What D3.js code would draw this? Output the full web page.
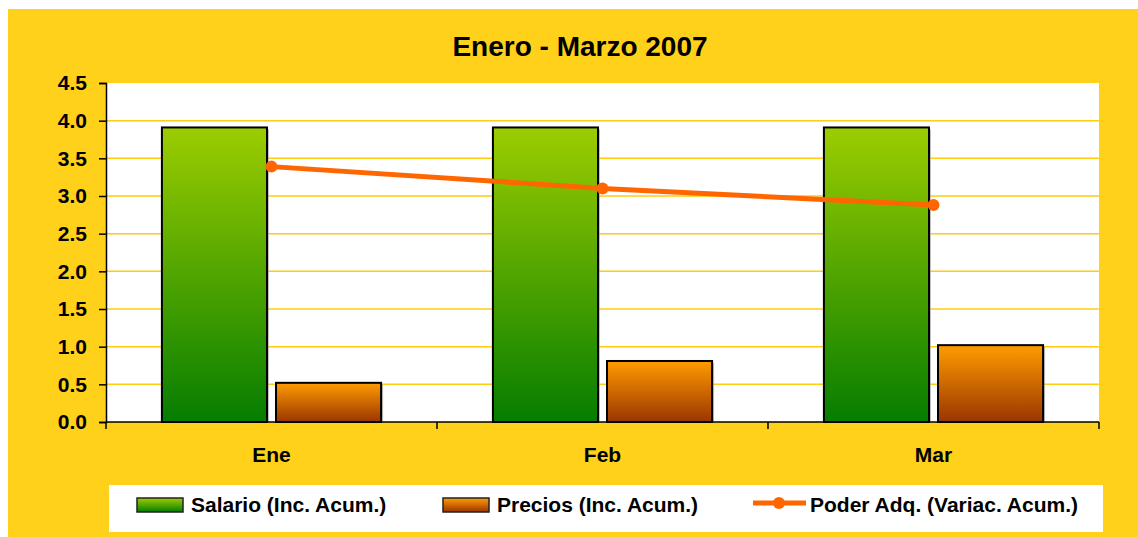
<!DOCTYPE html>
<html>
<head>
<meta charset="utf-8">
<script src="https://cdn.jsdelivr.net/npm/d3@7"></script>
<style>
	body{margin:0;padding:0;background:#fff;}
	svg{display:block;font-family:'Liberation Sans',Arial,sans-serif;font-weight:bold;}
</style>
</head>
<body>
<div id="chart_div"></div>
<script>
////////////////////////////////////////
// data
////////////////////////////////////////

var categories = ['Ene','Feb','Mar'];
var salario = [3.91,3.91,3.91];
var precios = [0.52,0.81,1.02];
var poder = [3.39,3.10,2.88];
var yTicks = [0,0.5,1,1.5,2,2.5,3,3.5,4,4.5];
var seriesNames = ['Salario (Inc. Acum.)','Precios (Inc. Acum.)','Poder Adq. (Variac. Acum.)'];

////////////////////////////////////////
// layout
////////////////////////////////////////

var W = 1138, H = 537;
var plot = {left:106, top:83, right:1099, bottom:422};
var yellow = '#FFD11A';
var fontSize = 21;

var vis = d3.select('#chart_div')
	.append('svg')
	.attr('width',W)
	.attr('height',H);

var defs = vis.append('defs');
function addGrad(id,top,bottom){
	var g = defs.append('linearGradient')
		.attr('id',id)
		.attr('x1',0).attr('y1',0).attr('x2',0).attr('y2',1);
	g.append('stop').attr('offset','0%').attr('stop-color',top);
	g.append('stop').attr('offset','100%').attr('stop-color',bottom);
}
addGrad('gradSalario','#9CCD00','#057D00');
addGrad('gradPrecios','#FF9C00','#9A3500');

vis.append('rect')
	.attr('x',8).attr('y',9)
	.attr('width',W-8).attr('height',H-9)
	.attr('fill',yellow);

vis.append('rect')
	.attr('x',plot.left).attr('y',plot.top)
	.attr('width',plot.right-plot.left).attr('height',plot.bottom-plot.top)
	.attr('fill','#fff');

vis.append('text')
	.attr('x',580).attr('y',56)
	.attr('text-anchor','middle')
	.attr('font-size',28)
	.attr('fill','#000')
	.text('Enero - Marzo 2007');

////////////////////////////////////////
// scales
////////////////////////////////////////

var x = d3.scaleBand()
	.domain(categories)
	.range([plot.left,plot.right])
	.paddingInner(0)
	.paddingOuter(0);

var xInner = d3.scaleBand()
	.domain([0,1])
	.range([0,x.bandwidth()])
	.paddingInner(0.079)
	.paddingOuter(0.49);

var y = d3.scaleLinear()
	.domain([0,4.5])
	.range([plot.bottom,plot.top]);

// grid lines
vis.selectAll('line.grid')
	.data(yTicks.filter(function(d){ return d>0 && d<4.5; }))
	.enter()
		.append('line')
		.attr('class','grid')
		.attr('x1',plot.left).attr('x2',plot.right)
		.attr('y1',function(d){ return y(d); })
		.attr('y2',function(d){ return y(d); })
		.attr('stroke','#FFCC11')
		.attr('stroke-width',1.5);

////////////////////////////////////////
// bars
////////////////////////////////////////

var barData = [];
categories.forEach(function(c,i){
	barData.push({cat:c,k:0,v:salario[i],fill:'url(#gradSalario)'});
	barData.push({cat:c,k:1,v:precios[i],fill:'url(#gradPrecios)'});
});

vis.selectAll('rect.shadow')
	.data(barData)
	.enter()
		.append('rect')
		.attr('class','shadow')
		.attr('x',function(d){ return x(d.cat)+xInner(d.k)+2; })
		.attr('y',function(d){ return y(d.v)+2; })
		.attr('width',xInner.bandwidth())
		.attr('height',function(d){ return y(0)-y(d.v)-2; })
		.attr('fill','#999')
		.attr('opacity',0.6);

vis.selectAll('rect.bar')
	.data(barData)
	.enter()
		.append('rect')
		.attr('class','bar')
		.attr('x',function(d){ return x(d.cat)+xInner(d.k); })
		.attr('y',function(d){ return y(d.v); })
		.attr('width',xInner.bandwidth())
		.attr('height',function(d){ return y(0)-y(d.v); })
		.attr('fill',function(d){ return d.fill; })
		.attr('stroke','#000')
		.attr('stroke-width',2);

////////////////////////////////////////
// axes
////////////////////////////////////////

var yAxis = d3.axisLeft(y)
	.tickValues(yTicks)
	.tickSize(7)
	.tickPadding(12)
	.tickFormat(d3.format('.1f'));

var gy = vis.append('g')
	.attr('transform','translate('+plot.left+',0)')
	.call(yAxis);
gy.select('.domain').attr('stroke','#000').attr('stroke-width',1.5);
gy.selectAll('.tick line').attr('stroke','#000').attr('stroke-width',1.5);
gy.selectAll('.tick text')
	.attr('font-size',fontSize)
	.attr('font-family',"'Liberation Sans',Arial,sans-serif")
	.attr('font-weight','bold')
	.attr('fill','#000');

var xAxis = d3.axisBottom(x).tickSize(0).tickPadding(25);
var gx = vis.append('g')
	.attr('transform','translate(0,'+plot.bottom+')')
	.call(xAxis);
gx.select('.domain').attr('d','M'+plot.left+',0H'+plot.right).attr('stroke','#000').attr('stroke-width',1.5);
gx.selectAll('.tick text')
	.attr('font-size',fontSize)
	.attr('font-family',"'Liberation Sans',Arial,sans-serif")
	.attr('font-weight','bold')
	.attr('fill','#000');

// category boundary ticks
vis.selectAll('line.xtick')
	.data(categories)
	.enter()
		.append('line')
		.attr('class','xtick')
		.attr('x1',function(d){ return x(d); })
		.attr('x2',function(d){ return x(d); })
		.attr('y1',plot.bottom).attr('y2',plot.bottom+7)
		.attr('stroke','#000').attr('stroke-width',1.5);
vis.append('line')
	.attr('x1',plot.right).attr('x2',plot.right)
	.attr('y1',plot.bottom).attr('y2',plot.bottom+7)
	.attr('stroke','#000').attr('stroke-width',1.5);

////////////////////////////////////////
// line
////////////////////////////////////////

var lineData = categories.map(function(c,i){ return {cat:c,v:poder[i]}; });
var line = d3.line()
	.x(function(d){ return x(d.cat)+x.bandwidth()/2; })
	.y(function(d){ return y(d.v); });

vis.append('path')
	.datum(lineData)
	.attr('d',line)
	.attr('fill','none')
	.attr('stroke','#FF6600')
	.attr('stroke-width',5);

vis.selectAll('circle.pt')
	.data(lineData)
	.enter()
		.append('circle')
		.attr('class','pt')
		.attr('cx',function(d){ return x(d.cat)+x.bandwidth()/2; })
		.attr('cy',function(d){ return y(d.v); })
		.attr('r',6)
		.attr('fill','#FF6600');

////////////////////////////////////////
// legend
////////////////////////////////////////

vis.append('rect')
	.attr('x',109).attr('y',485)
	.attr('width',994).attr('height',47)
	.attr('fill','#fff');

var legendX = [136,442,753];
var lg = vis.selectAll('g.legend')
	.data(seriesNames)
	.enter()
		.append('g')
		.attr('class','legend')
		.attr('transform',function(d,i){ return 'translate('+legendX[i]+',0)'; });

lg.filter(function(d,i){ return i<2; })
	.append('rect')
	.attr('x',1).attr('y',498)
	.attr('width',46).attr('height',14)
	.attr('fill',function(d,i){ return i===0?'url(#gradSalario)':'url(#gradPrecios)'; })
	.attr('stroke','#222')
	.attr('stroke-width',1.5);

var lgLine = lg.filter(function(d,i){ return i===2; });
lgLine.append('line')
	.attr('x1',0).attr('x2',53)
	.attr('y1',503).attr('y2',503)
	.attr('stroke','#FF6600').attr('stroke-width',5);
lgLine.append('circle')
	.attr('cx',26).attr('cy',503).attr('r',6)
	.attr('fill','#FF6600');

lg.append('text')
	.attr('x',function(d,i){ return i===2?57:55; })
	.attr('y',512)
	.attr('font-size',fontSize)
	.attr('fill','#000')
	.text(function(d){ return d; });
</script>
</body>
</html>
